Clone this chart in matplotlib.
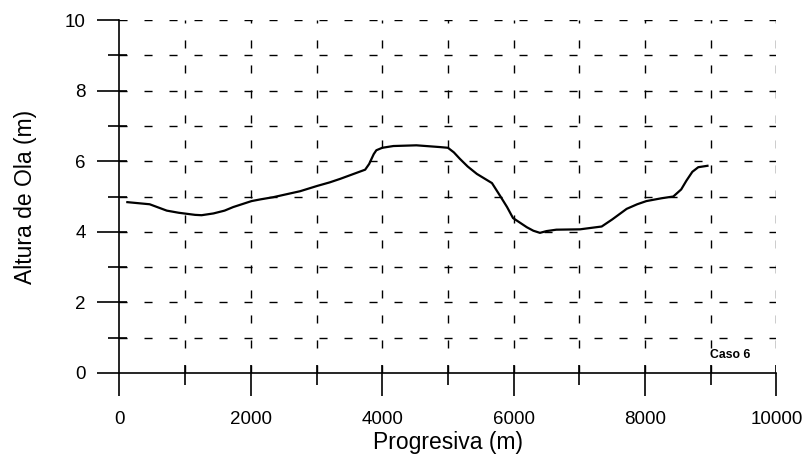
import matplotlib
matplotlib.use("Agg")
import matplotlib.pyplot as plt
import numpy as np

plt.rcParams["font.family"] = ["Liberation Sans", "DejaVu Sans"]

# wave height profile
progresiva = [120, 460, 720, 900, 1150, 1250, 1430, 1600, 1730, 2010, 2150, 2340,
              2750, 3010, 3200, 3360, 3740, 3800, 3870, 3910, 4000, 4170, 4520,
              4880, 5000, 5090, 5180, 5300, 5440, 5670, 5800, 5900, 5990, 6200,
              6300, 6400, 6500, 6650, 7010, 7340, 7500, 7720, 7880, 8020, 8250,
              8430, 8550, 8630, 8720, 8810, 8950]
altura = [4.84, 4.78, 4.60, 4.54, 4.48, 4.47, 4.52, 4.60, 4.70, 4.87, 4.92, 4.98,
          5.15, 5.30, 5.40, 5.50, 5.76, 5.92, 6.20, 6.31, 6.38, 6.43, 6.45,
          6.40, 6.38, 6.25, 6.07, 5.85, 5.64, 5.38, 5.00, 4.70, 4.39, 4.13,
          4.03, 3.97, 4.02, 4.06, 4.07, 4.15, 4.35, 4.65, 4.78, 4.87, 4.95,
          5.00, 5.20, 5.45, 5.70, 5.83, 5.87]

x_major = np.arange(0, 10001, 2000)
x_minor = np.arange(1000, 10001, 2000)
y_major = np.arange(0, 11, 2)
y_minor = np.arange(1, 10, 2)

fig = plt.figure(figsize=(8.11, 4.61), dpi=100)
ax = fig.add_axes([0.1473, 0.1909, 0.8101, 0.7657])

ax.plot(progresiva, altura, color="black", lw=1.6, zorder=3)

ax.set_xlim(0, 10000)
ax.set_ylim(0, 10)
ax.set_xticks(x_major)
ax.set_xticks(x_minor, minor=True)
ax.set_yticks(y_major)
ax.set_yticks(y_minor, minor=True)

for s in ("top", "right"):
    ax.spines[s].set_visible(False)
for s in ("left", "bottom"):
    ax.spines[s].set_linewidth(1.2)

ax.tick_params(axis="x", which="major", direction="out", length=16.5, width=1.2,
               pad=11, labelsize=13.5)
ax.tick_params(axis="x", which="minor", direction="out", length=8.6, width=1.2)
ax.tick_params(axis="y", which="major", direction="out", length=15.8, width=1.2,
               pad=8.5, labelsize=13.5)
ax.tick_params(axis="y", which="minor", direction="out", length=7.9, width=1.2)

# short inward part of every tick
all_x = np.arange(1000, 10001, 1000)
all_y = np.arange(1, 11, 1)
ax.vlines(all_x, 0, 0.023, transform=ax.get_xaxis_transform(), color="black", lw=1.2)
ax.hlines(all_y, 0, 0.012, transform=ax.get_yaxis_transform(), color="black", lw=1.2)

# dashed grid
for xv in all_x:
    ax.axvline(xv, color="black", lw=1.0, linestyle=(0, (5.8, 12.2)), zorder=1)
for yv in all_y:
    ax.axhline(yv, color="black", lw=1.0, linestyle=(0, (5.8, 12.2)), zorder=1)

ax.set_xlabel("Progresiva (m)", fontsize=16.5, labelpad=2)
ax.set_ylabel("Altura de Ola (m)", fontsize=16.5, labelpad=20)

ax.text(8990, 0.51, "Caso 6", fontsize=8.8, fontweight="bold", va="center", ha="left")

fig.savefig("out.png", dpi=100)
